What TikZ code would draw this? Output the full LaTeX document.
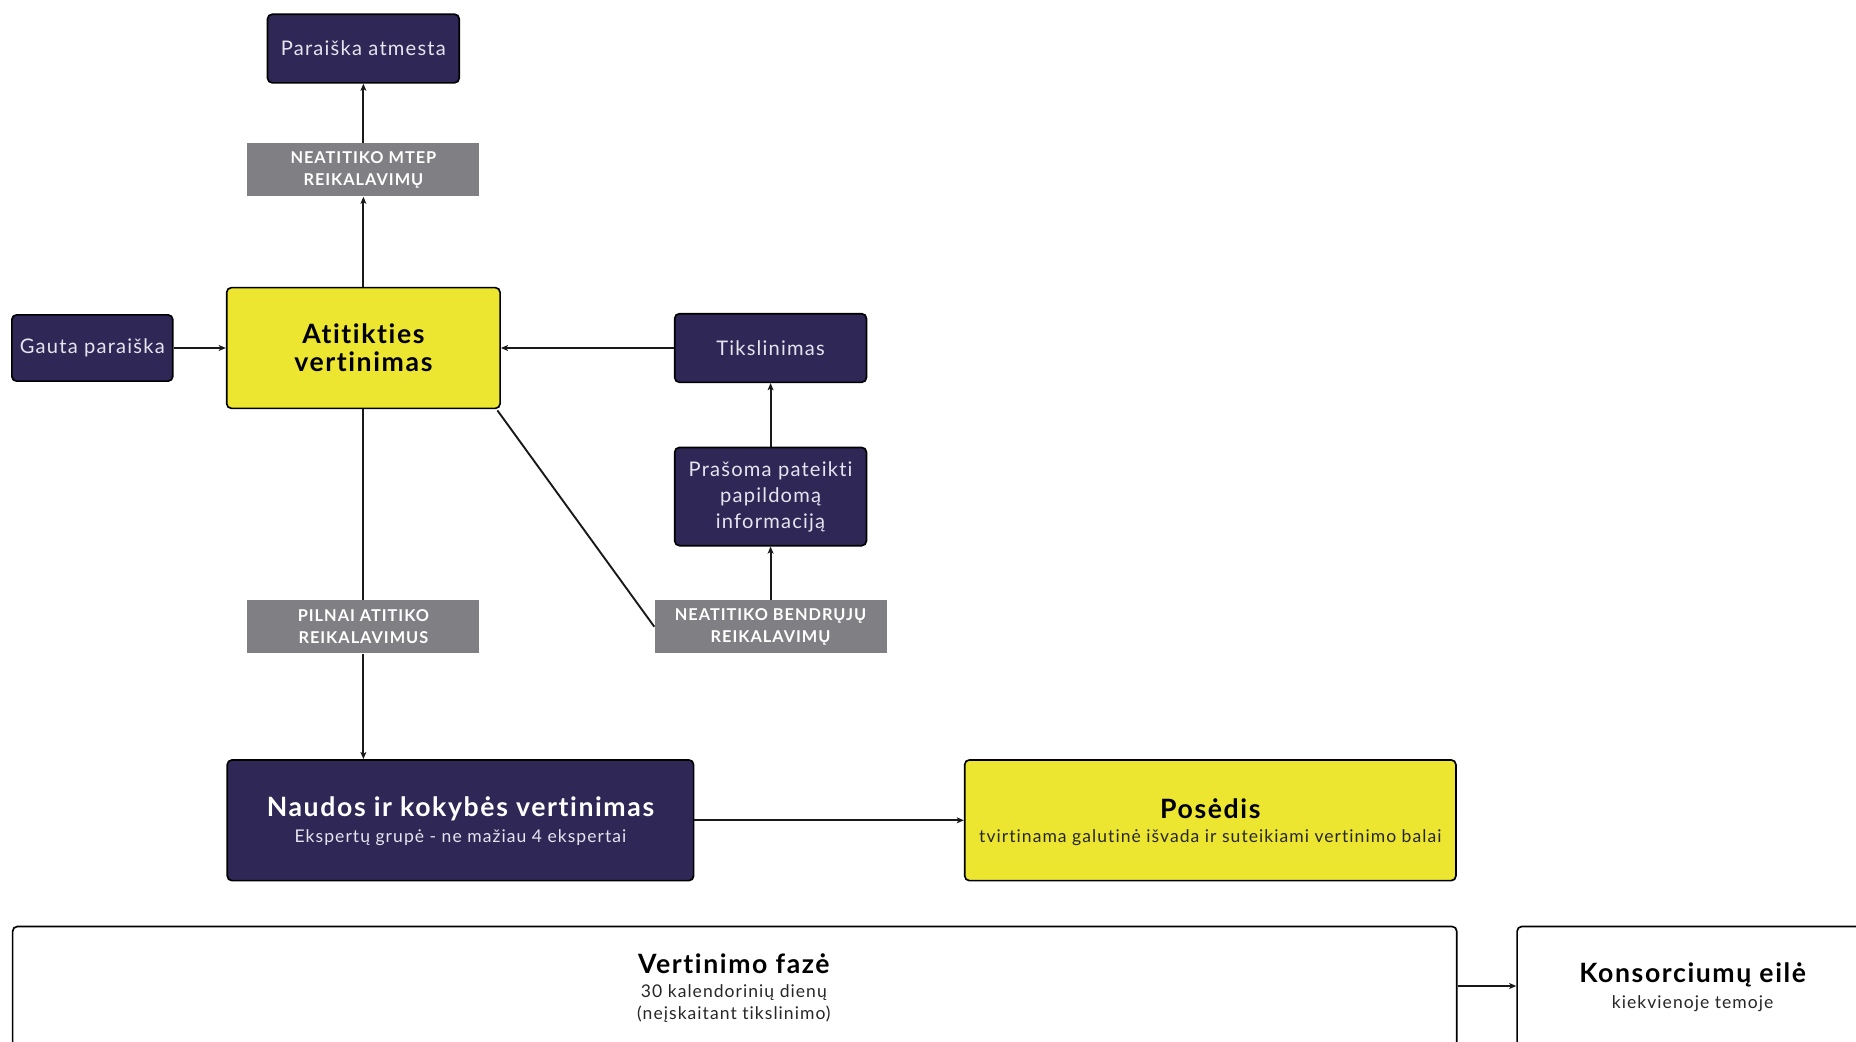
\documentclass[tikz,border=0pt]{standalone}
\usepackage{fontspec}
\setmainfont{Lato}[LetterSpace=6,Ligatures=NoCommon]
\usetikzlibrary{arrows.meta}
\definecolor{navy}{HTML}{2F2856}
\definecolor{ylw}{HTML}{EDE630}
\definecolor{grey}{HTML}{808084}
\definecolor{lite}{HTML}{E6E4EF}
\tikzset{
  box/.style={draw=black, line width=1.4pt, rounded corners=4pt, inner sep=0pt, align=center},
  navybox/.style={box, fill=navy, text=lite, font=\fontsize{17}{22}\selectfont},
  ylwbox/.style={box, fill=ylw, text=black},
  greybox/.style={fill=grey, text=white, inner sep=0pt, align=center, minimum width=196pt, minimum height=45pt, font=\bfseries\fontsize{13.8}{19}\selectfont},
  whitebox/.style={box, fill=white, text=black},
  conn/.style={line width=1.6pt, draw=black!90},
  arr/.style={conn, -{Stealth[length=6pt,width=5pt,inset=1.5pt]}},
}
\begin{document}
\begin{tikzpicture}[x=1pt,y=-1pt]
\useasboundingbox (0,0) rectangle (1568,880);
\clip (0,0) rectangle (1568,880);
% nodes
\node[navybox, minimum width=162pt, minimum height=58pt] (atmesta) at (307,41) {Paraiška atmesta};
\node[greybox] (mtep) at (307,143.5) {NEATITIKO MTEP\\REIKALAVIMŲ};
\node[navybox, minimum width=136pt, minimum height=56pt] (gauta) at (78,294) {Gauta paraiška};
\node[ylwbox, minimum width=231pt, minimum height=102pt, font=\bfseries\fontsize{22.5}{24}\selectfont] (atit) at (307,294) {Atitikties\\vertinimas};
\node[navybox, minimum width=162pt, minimum height=58pt] (tiksl) at (651,294) {Tikslinimas};
\node[navybox, minimum width=162pt, minimum height=83pt, font=\fontsize{17}{22}\selectfont] (prasoma) at (651,419.5) {Prašoma pateikti\\papildomą\\informaciją};
\node[greybox] (pilnai) at (307,529.5) {PILNAI ATITIKO\\REIKALAVIMUS};
\node[greybox] (bendr) at (651,529.5) {NEATITIKO BENDRŲJŲ\\REIKALAVIMŲ};
\node[navybox, minimum width=394pt, minimum height=102pt] (naudos) at (389,693) {};
\node[ylwbox, minimum width=415pt, minimum height=102pt] (posedis) at (1022.5,693) {};
\node[whitebox, minimum width=1220pt, minimum height=160pt, anchor=north west] (faze) at (10,782) {};
\node[whitebox, minimum width=340pt, minimum height=160pt, anchor=north west] (kons) at (1281,782) {};
% texts inside large boxes
\node[text=white, font=\bfseries\fontsize{22.5}{24}\selectfont, inner sep=0pt] (naudosT) at (389,683) {Naudos ir kokybės vertinimas};
\node[text=lite, font=\fontsize{14.8}{16}\selectfont, inner sep=0pt] (naudosS) at (389,708) {Ekspertų grupė - ne mažiau 4 ekspertai};
\node[text=black, font=\bfseries\fontsize{22.5}{24}\selectfont, inner sep=0pt] (posT) at (1022.5,683) {Posėdis};
\node[text=black!85, font=\fontsize{14.8}{16}\selectfont, inner sep=0pt] (posS) at (1022.5,708) {tvirtinama galutinė išvada ir suteikiami vertinimo balai};
\node[text=black, font=\bfseries\fontsize{22.5}{24}\selectfont, inner sep=0pt] (fazeT) at (620,814) {Vertinimo fazė};
\node[text=black!85, font=\fontsize{14.8}{19}\selectfont, inner sep=0pt, align=center] (fazeS) at (620,848) {30 kalendorinių dienų\\(neįskaitant tikslinimo)};
\node[text=black, font=\bfseries\fontsize{22.5}{24}\selectfont, inner sep=0pt] (konsT) at (1430,824) {Konsorciumų eilė};
\node[text=black!85, font=\fontsize{14.8}{16}\selectfont, inner sep=0pt] (konsS) at (1430,848) {kiekvienoje temoje};
% connectors
\draw[arr] (atit.north) -- (mtep.south);
\draw[arr] (mtep.north) -- (atmesta.south);
\draw[arr] (gauta.east) -- (atit.west);
\draw[arr] (tiksl.west) -- (atit.east);
\draw[arr] (prasoma.north) -- (tiksl.south);
\draw[arr] (bendr.north) -- (prasoma.south);
\draw[conn] (atit.south) -- (pilnai.north);
\draw[arr] (pilnai.south) -- (naudos.north -| pilnai.south);
\draw[conn] ([xshift=-3pt,yshift=-1pt]atit.south east) -- (bendr.west);
\draw[arr] (naudos.east) -- (posedis.west);
\draw[arr] (faze.east |- 0,833) -- (kons.west |- 0,833);
\end{tikzpicture}
\end{document}
